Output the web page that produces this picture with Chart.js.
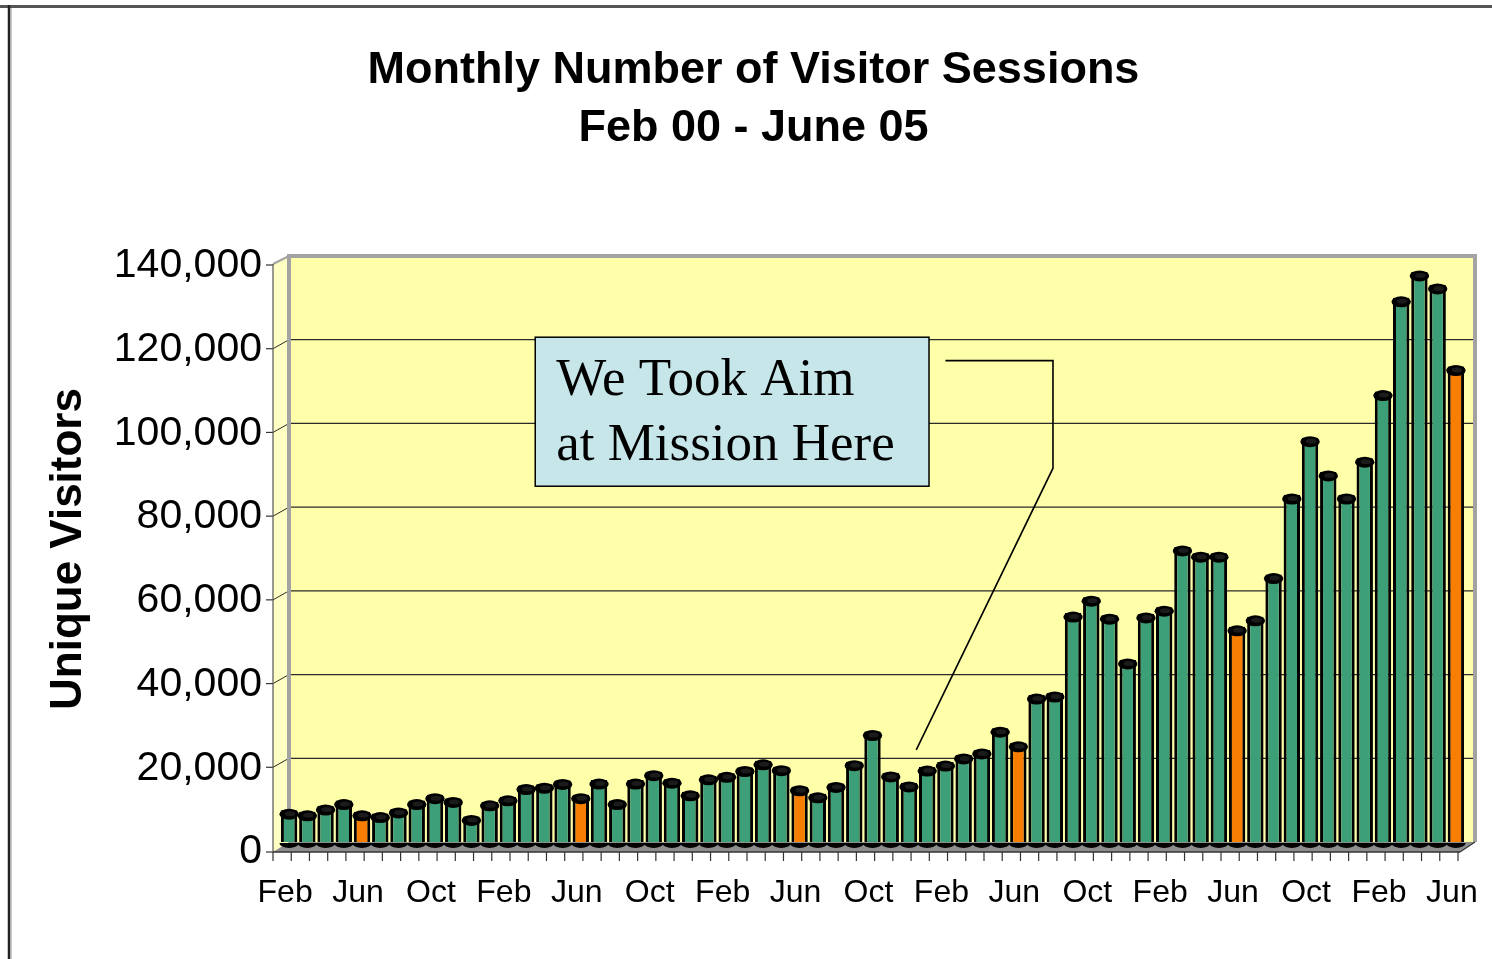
<!DOCTYPE html>
<html>
<head>
<meta charset="utf-8">
<script src="https://cdn.jsdelivr.net/npm/chart.js@4.4.1/dist/chart.umd.min.js"></script>
<style>
html,body{margin:0;padding:0;background:#fff;overflow:hidden}
#wrap{width:1492px;height:959px;position:relative}
</style>
</head>
<body>
<div id="wrap"><canvas id="c" width="1492" height="959"></canvas></div>
<script>
// ---------- DATA ----------
const categories = [
  'Feb 00','Mar 00','Apr 00','May 00','Jun 00','Jul 00','Aug 00','Sep 00','Oct 00','Nov 00','Dec 00',
  'Jan 01','Feb 01','Mar 01','Apr 01','May 01','Jun 01','Jul 01','Aug 01','Sep 01','Oct 01','Nov 01','Dec 01',
  'Jan 02','Feb 02','Mar 02','Apr 02','May 02','Jun 02','Jul 02','Aug 02','Sep 02','Oct 02','Nov 02','Dec 02',
  'Jan 03','Feb 03','Mar 03','Apr 03','May 03','Jun 03','Jul 03','Aug 03','Sep 03','Oct 03','Nov 03','Dec 03',
  'Jan 04','Feb 04','Mar 04','Apr 04','May 04','Jun 04','Jul 04','Aug 04','Sep 04','Oct 04','Nov 04','Dec 04',
  'Jan 05','Feb 05','Mar 05','Apr 05','May 05','Jun 05'
];
const visitors = [
  7600, 7200, 8600, 9900, 7200, 6800, 7900, 9900, 11300, 10400, 6100,
  9600, 10800, 13500, 13800, 14700, 11300, 14800, 9900, 14800, 16800, 15000, 12000,
  15800, 16400, 17800, 19400, 18000, 13200, 11500, 14000, 19200, 26400, 16500, 14100,
  17900, 19100, 20800, 22000, 27200, 23700, 35100, 35600, 54700, 58500, 54200, 43500,
  54500, 56100, 70500, 69000, 69000, 51400, 53800, 63900, 82900, 96600, 88400, 82900,
  91700, 107600, 130000, 136200, 133100, 113600
];
const yTicks = [0, 20000, 40000, 60000, 80000, 100000, 120000, 140000];
const highlightMonth = 'Jun';
const chartTitle = ['Monthly Number of Visitor Sessions', 'Feb 00 - June 05'];
const yAxisTitle = 'Unique Visitors';
const noteLines = ['We Took Aim', 'at Mission Here'];
// annotation anchors (category index, value)
const noteBox = {i0: 13.5, i1: 35.1, v0: 120600, v1: 85000};
const notePointer = [[36.0, 115000], [41.9, 115000], [41.9, 89300], [34.4, 22000]];

// ---------- STYLE ----------
const GREEN = '#3C9F77', ORANGE = '#F77E00';
const SANS = "'Liberation Sans', Arial, Helvetica, sans-serif";
const SERIF = "'Liberation Serif', 'Times New Roman', serif";

const barColors = categories.map(c => c.startsWith(highlightMonth) ? ORANGE : GREEN);

function geom(chart) {
  const a = chart.chartArea, y = chart.scales.y;
  const step = (a.right - a.left) / categories.length;
  return {
    a, y, step,
    bx0: a.left + 9, bx1: a.right + 10,
    fx0: a.left - 7, fx1: a.right - 5,
    dy: 10,
    top: y.getPixelForValue(yTicks[yTicks.length - 1]),
    base: y.getPixelForValue(0),
    xi: i => a.left + (i + 0.5) * step
  };
}

function poly(ctx, pts, fill) {
  ctx.beginPath();
  ctx.moveTo(pts[0][0], pts[0][1]);
  for (let k = 1; k < pts.length; k++) ctx.lineTo(pts[k][0], pts[k][1]);
  ctx.closePath();
  ctx.fillStyle = fill; ctx.fill();
}
function line(ctx, x1, y1, x2, y2, color, w) {
  ctx.beginPath(); ctx.moveTo(x1, y1); ctx.lineTo(x2, y2);
  ctx.strokeStyle = color; ctx.lineWidth = w; ctx.stroke();
}

const decor = {
  id: 'decor',
  beforeDatasetsDraw(chart) {
    const ctx = chart.ctx;
    const g = geom(chart);
    const {bx0, bx1, fx0, fx1, dy, top, base, y} = g;
    ctx.save();
    // left wall
    poly(ctx, [[fx0, top + 8], [bx0, top], [bx0, base], [fx0, base + dy]], '#FFFFC4');
    // back wall
    ctx.fillStyle = '#FFFFAA';
    ctx.fillRect(bx0, top, bx1 - bx0, base - top);
    // floor
    poly(ctx, [[fx0, base + dy], [bx0, base], [bx1, base], [fx1, base + dy]], '#8E8E8E');
    // gridlines
    yTicks.forEach(v => {
      const yy = y.getPixelForValue(v);
      if (v > 0 && v < yTicks[yTicks.length - 1]) {
        line(ctx, bx0, yy, bx1, yy, '#2a2a2a', 1.3);
        line(ctx, fx0, yy + dy - 1, bx0, yy, '#2a2a2a', 1);
      }
      line(ctx, fx0 - 7, yy + dy - (v ? 1 : 0), fx0, yy + dy - (v ? 1 : 0), '#333', 1.2);
    });
    // wall edges
    ctx.beginPath();
    ctx.moveTo(bx0, base); ctx.lineTo(bx0, top); ctx.lineTo(bx1, top); ctx.lineTo(bx1, base);
    ctx.strokeStyle = '#A3A3A3'; ctx.lineWidth = 4; ctx.stroke();
    line(ctx, fx0, top + 8, bx0, top, '#A3A3A3', 2);
    // front axes
    line(ctx, fx0, top + 8, fx0, base + dy, '#555', 1.2);
    line(ctx, fx0, base + dy, fx1, base + dy, '#333', 1.5);
    line(ctx, fx1, base + dy, bx1, base, '#333', 1.2);
    for (let k = 0; k <= categories.length; k++) {
      const xx = fx0 + k * g.step;
      line(ctx, xx, base + dy, xx, base + dy + 9, '#333', 1.2);
    }
    // bar bottoms (cylinder base)
    const meta = chart.getDatasetMeta(0);
    meta.data.forEach((bar, i) => {
      ctx.beginPath();
      ctx.ellipse(bar.x, base + 1, bar.width / 2 + 1.5, 5, 0, 0, Math.PI);
      ctx.fillStyle = '#000'; ctx.fill();
    });
    ctx.restore();
  },
  afterDatasetsDraw(chart) {
    const ctx = chart.ctx;
    const meta = chart.getDatasetMeta(0);
    ctx.save();
    meta.data.forEach((bar, i) => {
      ctx.beginPath();
      ctx.ellipse(bar.x, bar.y + 4, bar.width / 2 + 1.5, 5.5, 0, 0, Math.PI * 2);
      ctx.fillStyle = '#000'; ctx.fill();
      ctx.beginPath();
      ctx.ellipse(bar.x + 1, bar.y + 3.5, bar.width / 2 - 3, 2.5, 0, 0, Math.PI * 2);
      ctx.fillStyle = '#1b1b1b'; ctx.fill();
    });
    ctx.restore();
  },
  afterDraw(chart) {
    const ctx = chart.ctx;
    const g = geom(chart);
    const y = g.y;
    ctx.save();
    // annotation box
    const L = g.xi(noteBox.i0), R = g.xi(noteBox.i1);
    const T = y.getPixelForValue(noteBox.v0), B = y.getPixelForValue(noteBox.v1);
    ctx.fillStyle = '#C6E6E9';
    ctx.fillRect(L, T, R - L, B - T);
    ctx.strokeStyle = '#000'; ctx.lineWidth = 1.5;
    ctx.strokeRect(L, T, R - L, B - T);
    ctx.fillStyle = '#000';
    ctx.font = '53px ' + SERIF;
    ctx.textAlign = 'left'; ctx.textBaseline = 'alphabetic';
    ctx.fillText(noteLines[0], L + 21, T + 58);
    ctx.fillText(noteLines[1], L + 21, T + 123);
    // pointer line
    ctx.beginPath();
    notePointer.forEach((p, k) => {
      const px = g.xi(p[0]), py = y.getPixelForValue(p[1]);
      if (k === 0) ctx.moveTo(px, py); else ctx.lineTo(px, py);
    });
    ctx.strokeStyle = '#000'; ctx.lineWidth = 1.6; ctx.stroke();
    // outer frame
    line(ctx, 0, 6.5, chart.width, 6.5, '#555', 3);
    line(ctx, 9, 5, 9, chart.height, '#222', 2.5);
    line(ctx, 11, 8, 11, chart.height, '#999', 1);
    ctx.restore();
  }
};

new Chart(document.getElementById('c'), {
  type: 'bar',
  data: {
    labels: categories,
    datasets: [{
      data: visitors,
      backgroundColor: barColors,
      borderColor: '#000',
      borderWidth: 3,
      barPercentage: 0.9,
      categoryPercentage: 1.0
    }]
  },
  options: {
    responsive: false,
    devicePixelRatio: 1,
    animation: false,
    layout: {padding: {left: 42, right: 27, top: 0, bottom: 0}},
    plugins: {
      legend: {display: false},
      tooltip: {enabled: false},
      title: {
        display: true,
        text: chartTitle,
        color: '#000',
        font: {family: SANS, size: 45, weight: 'bold', lineHeight: 1.3},
        padding: {top: 41, bottom: 98}
      }
    },
    scales: {
      x: {
        grid: {display: false, drawTicks: false},
        border: {display: false},
        ticks: {
          autoSkip: false, maxRotation: 0, minRotation: 0,
          color: '#000',
          font: {family: SANS, size: 32},
          padding: 32,
          labelOffset: -4,
          callback: (v, i) => (i % 4 === 0 ? categories[i].split(' ')[0] : '')
        },
        afterFit: s => { s.height = 117; s.paddingLeft = 0; s.paddingRight = 0; }
      },
      y: {
        min: 0, max: 140000,
        grid: {display: false, drawTicks: false},
        border: {display: false},
        afterBuildTicks: s => { s.ticks = yTicks.map(v => ({value: v})); },
        ticks: {
          color: '#000',
          font: {family: SANS, size: 41},
          padding: 18,
          labelOffset: 10,
          callback: v => Number(v).toLocaleString('en-US')
        },
        title: {
          display: true,
          text: yAxisTitle,
          color: '#000',
          font: {family: SANS, size: 44, weight: 'bold', lineHeight: 1.2},
          padding: 0
        },
        afterFit: s => { s.width = 238; s.paddingTop = 0; s.paddingBottom = 0; }
      }
    }
  },
  plugins: [decor]
});
</script>
</body>
</html>
